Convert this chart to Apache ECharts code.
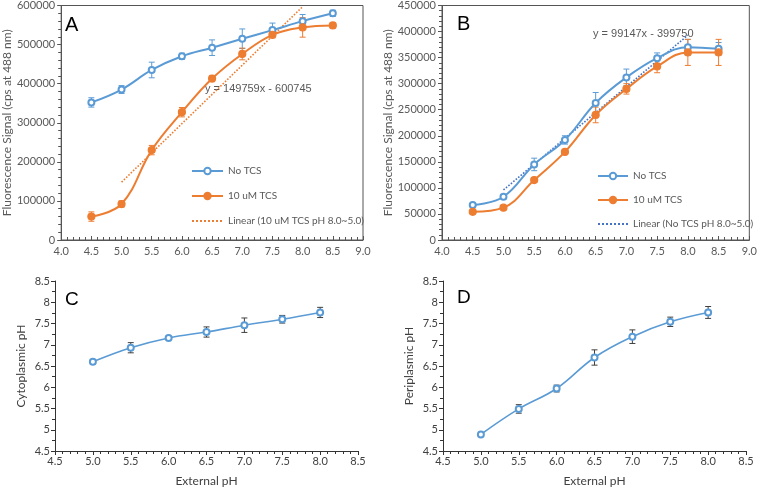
<!DOCTYPE html>
<html><head><meta charset="utf-8">
<script src="https://cdn.jsdelivr.net/npm/echarts@6/dist/echarts.min.js"></script>
<style>html,body{margin:0;padding:0;background:#fff}#c{width:760px;height:492px}</style>
</head><body><div id="c"></div>
<script>
// ---------- data ----------
const phAB = [4.5, 5.0, 5.5, 6.0, 6.5, 7.0, 7.5, 8.0, 8.5];
const aNoTcs    = [352000, 385000, 435000, 470000, 492000, 515000, 537000, 560000, 580000];
const aNoTcsErr = [12000, 10000, 20000, 8000, 20000, 25000, 18000, 17000, 8000];
const aTcs      = [60000, 92000, 230000, 327000, 413000, 476000, 525000, 544000, 549000];
const aTcsErr   = [12000, 8000, 12000, 12000, 8000, 15000, 8000, 25000, 7000];
const aTrendX = [5.0, 8.0];
const aTrendY = [148000, 597000];
const bNoTcs    = [67000, 83000, 145000, 192000, 263000, 312000, 349000, 370000, 367000];
const bNoTcsErr = [3000, 4000, 12000, 8000, 20000, 16000, 10000, 15000, 12000];
const bTcs      = [54000, 62000, 115000, 169000, 240000, 290000, 333000, 360000, 360000];
const bTcsErr   = [2000, 3000, 4000, 4000, 15000, 10000, 12000, 25000, 25000];
const bTrendX = [5.0, 8.0];
const bTrendY = [96000, 393000];
const phCD = [5.0, 5.5, 6.0, 6.5, 7.0, 7.5, 8.0];
const cCyto    = [6.60, 6.93, 7.16, 7.30, 7.46, 7.60, 7.76];
const cCytoErr = [0.05, 0.12, 0.04, 0.12, 0.17, 0.09, 0.12];
const dPeri    = [4.89, 5.49, 5.97, 6.70, 7.19, 7.54, 7.76];
const dPeriErr = [0.02, 0.10, 0.08, 0.18, 0.16, 0.11, 0.14];
const eqA = 'y = 149759x - 600745';
const eqB = 'y = 99147x - 399750';
const nameNo = 'No TCS', nameTcs = '10 uM TCS';
const nameTrA = 'Linear (10 uM TCS pH 8.0~5.0)';
const nameTrB = 'Linear (No TCS pH 8.0~5.0)';

// ---------- style ----------
const BLUE = '#5B9BD5', ORANGE = '#ED7D31', GREY = '#595959';
const FONT = 'Lato, "Liberation Sans", sans-serif';

const zip = (xs, ys) => xs.map((x, i) => [x, ys[i]]);
const zip3 = (xs, ys, es) => xs.map((x, i) => [x, ys[i], es[i]]);

function errRender(color) {
  return function (params, api) {
    const x = api.value(0), y = api.value(1), e = api.value(2);
    const t = api.coord([x, y + e]), b = api.coord([x, y - e]);
    const hw = 3, st = { stroke: color, lineWidth: 1 };
    return { type: 'group', children: [
      { type: 'line', shape: { x1: t[0], y1: t[1], x2: b[0], y2: b[1] }, style: st },
      { type: 'line', shape: { x1: t[0] - hw, y1: t[1], x2: t[0] + hw, y2: t[1] }, style: st },
      { type: 'line', shape: { x1: b[0] - hw, y1: b[1], x2: b[0] + hw, y2: b[1] }, style: st }
    ]};
  };
}

function xAxisAB(gi) {
  return { type: 'value', gridIndex: gi, min: 4, max: 9, interval: 0.5,
    axisLine: { lineStyle: { color: '#555' } },
    axisTick: { inside: true, length: 4, lineStyle: { color: '#555' } },
    minorTick: { show: true, splitNumber: 5, length: 3, lineStyle: { color: '#555' } },
    splitLine: { show: false },
    axisLabel: { formatter: v => v.toFixed(1), color: GREY, fontSize: 11, fontFamily: FONT, margin: 6 } };
}
function yAxisAB(gi, max, interval) {
  return { type: 'value', gridIndex: gi, min: 0, max: max, interval: interval,
    name: 'Fluorescence Signal (cps at 488 nm)', nameLocation: 'middle', nameGap: 46,
    nameTextStyle: { color: GREY, fontSize: 12, fontFamily: FONT },
    axisLine: { show: true, lineStyle: { color: '#555' } },
    axisTick: { show: true, length: 4, lineStyle: { color: '#555' } },
    minorTick: { show: true, splitNumber: 5, length: 3, lineStyle: { color: '#555' } },
    splitLine: { show: false },
    axisLabel: { formatter: v => String(v), color: GREY, fontSize: 11, fontFamily: FONT, margin: 6 } };
}
function xAxisCD(gi) {
  return { type: 'value', gridIndex: gi, min: 4.5, max: 8.5, interval: 0.5,
    name: 'External pH', nameLocation: 'middle', nameGap: 24,
    nameTextStyle: { color: '#404040', fontSize: 12, fontFamily: FONT },
    axisLine: { lineStyle: { color: '#333' } },
    axisTick: { length: 4, lineStyle: { color: '#333' } },
    minorTick: { show: true, splitNumber: 5, length: 3, lineStyle: { color: '#333' } },
    splitLine: { show: false },
    axisLabel: { formatter: v => v.toFixed(1), color: '#404040', fontSize: 11, fontFamily: FONT, margin: 5 } };
}
function yAxisCD(gi, name) {
  return { type: 'value', gridIndex: gi, min: 4.5, max: 8.5, interval: 0.5,
    name: name, nameLocation: 'middle', nameGap: 28,
    nameTextStyle: { color: '#404040', fontSize: 12, fontFamily: FONT },
    axisLine: { show: true, lineStyle: { color: '#333' } },
    axisTick: { show: true, length: 4, lineStyle: { color: '#333' } },
    minorTick: { show: true, splitNumber: 2, length: 3, lineStyle: { color: '#333' } },
    splitLine: { show: false },
    axisLabel: { color: '#404040', fontSize: 11, fontFamily: FONT, margin: 5 } };
}

function lineSeries(name, data, xi, color, symbol, size, extra) {
  return Object.assign({ type: 'line', name: name, xAxisIndex: xi, yAxisIndex: xi, data: data,
    smooth: 0.4, symbol: symbol, symbolSize: size,
    lineStyle: { color: color, width: 2 }, itemStyle: { color: color, borderColor: color, borderWidth: 1.2 },
    z: 3 }, extra || {});
}
function errSeries(data, xi, color) {
  return { type: 'custom', xAxisIndex: xi, yAxisIndex: xi, data: data,
    renderItem: errRender(color), encode: { x: 0, y: 1 }, z: 2, silent: true };
}
function trendSeries(name, data, xi, color) {
  return { type: 'line', name: name, xAxisIndex: xi, yAxisIndex: xi, data: data, symbol: 'none',
    lineStyle: { color: color, width: 1.6, type: 'dotted' }, itemStyle: { color: color }, z: 1 };
}

const txt = (x, y, text, size, color) => ({ type: 'text', x: x, y: y,
  style: { text: text, fontSize: size, fill: color, font: size + 'px ' + FONT, textVerticalAlign: 'middle' } });

const hidden = { color: 'rgba(0,0,0,0)', borderColor: 'rgba(0,0,0,0)', borderWidth: 0, opacity: 0 };

const option = {
  animation: false,
  backgroundColor: '#fff',
  grid: [
    { left: 56, top: 5, right: 397, bottom: 252, show: true, borderColor: '#555', borderWidth: 1 },
    { left: 442, top: 5, right: 8, bottom: 252, show: true, borderColor: '#555', borderWidth: 1 },
    { left: 55, top: 281, right: 402, bottom: 41 },
    { left: 443, top: 281, right: 14, bottom: 41 }
  ],
  xAxis: [xAxisAB(0), xAxisAB(1), xAxisCD(2), xAxisCD(3)],
  yAxis: [yAxisAB(0, 600000, 100000), yAxisAB(1, 450000, 50000),
          yAxisCD(2, 'Cytoplasmic pH'), yAxisCD(3, 'Periplasmic pH')],
  legend: [
    { data: [nameNo, nameTcs, { name: nameTrA, itemStyle: hidden }], orient: 'vertical', left: 186, top: 161,
      itemWidth: 31, itemHeight: 8, itemGap: 15,
      textStyle: { color: GREY, fontSize: 10, fontFamily: FONT } },
    { data: [nameNo, nameTcs, { name: nameTrB, itemStyle: hidden }], orient: 'vertical', left: 592, top: 166,
      itemWidth: 30, itemHeight: 8, itemGap: 14,
      textStyle: { color: GREY, fontSize: 10, fontFamily: FONT } }
  ],
  graphic: [
    txt(65, 25, 'A', 20, '#000'),
    txt(457, 24, 'B', 20, '#000'),
    txt(65, 300, 'C', 19, '#000'),
    txt(457, 298, 'D', 19, '#000'),
    txt(205, 89, eqA, 11, GREY),
    txt(593, 34, eqB, 11, GREY)
  ],
  series: [
    trendSeries(nameTrA, zip(aTrendX, aTrendY), 0, ORANGE),
    errSeries(zip3(phAB, aNoTcs, aNoTcsErr), 0, BLUE),
    errSeries(zip3(phAB, aTcs, aTcsErr), 0, ORANGE),
    lineSeries(nameNo, zip(phAB, aNoTcs), 0, BLUE, 'emptyCircle', 6),
    lineSeries(nameTcs, zip(phAB, aTcs), 0, ORANGE, 'circle', 7),

    trendSeries(nameTrB, zip(bTrendX, bTrendY), 1, '#4472C4'),
    errSeries(zip3(phAB, bNoTcs, bNoTcsErr), 1, BLUE),
    errSeries(zip3(phAB, bTcs, bTcsErr), 1, ORANGE),
    lineSeries(nameNo, zip(phAB, bNoTcs), 1, BLUE, 'emptyCircle', 6),
    lineSeries(nameTcs, zip(phAB, bTcs), 1, ORANGE, 'circle', 7),

    errSeries(zip3(phCD, cCyto, cCytoErr), 2, '#404040'),
    lineSeries('Cytoplasmic', zip(phCD, cCyto), 2, BLUE, 'emptyCircle', 6, { lineStyle: { color: BLUE, width: 1.6 } }),
    errSeries(zip3(phCD, dPeri, dPeriErr), 3, '#404040'),
    lineSeries('Periplasmic', zip(phCD, dPeri), 3, BLUE, 'emptyCircle', 6, { lineStyle: { color: BLUE, width: 1.6 } })
  ]
};
const chart = echarts.init(document.getElementById('c'), null, { renderer: 'canvas' });
chart.setOption(option);
</script></body></html>
